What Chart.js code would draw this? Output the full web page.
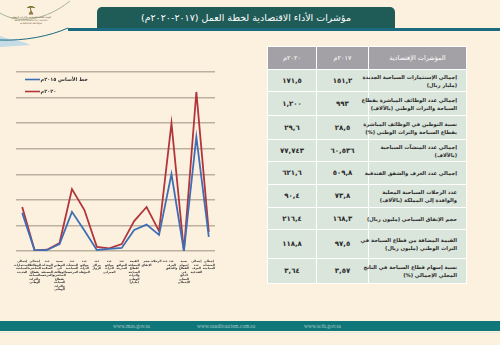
<!DOCTYPE html>
<html lang="ar">
<head>
<meta charset="utf-8">
<script src="https://cdn.jsdelivr.net/npm/chart.js@4.4.1/dist/chart.umd.min.js"></script>
<style>
  html, body { margin: 0; padding: 0; }
  body { width: 500px; height: 345px; background: #fcf1df; position: relative; overflow: hidden; font-family: "DejaVu Sans", sans-serif; }
  #deco { position: absolute; left: 0; top: 0; }
  #title { position: absolute; left: 97px; top: 7px; width: 298px; height: 21px; background: #1f5b57; border-radius: 5px 5px 0 0;
           color: #fff; font-size: 9.5px; text-align: center; line-height: 21px; direction: rtl; }
  #rule { position: absolute; left: 68px; top: 28px; width: 432px; height: 3px; background: #1b6a80; }
  #chartBox { position: absolute; left: 0; top: 0; width: 230px; height: 320px; }
  #tbl { position: absolute; left: 267px; top: 46px; border-collapse: collapse; table-layout: fixed; width: 199px; }
  #tbl td, #tbl th { border: 1.5px solid #fff; padding: 0; text-align: center; vertical-align: middle; }
  #tbl th { background: #a3a1a5; color: #fff; font-weight: normal; font-size: 6.5px; height: 22px; }
  #tbl td { background: #dae5dc; color: #2b2b2b; font-weight: bold; font-size: 7px; }
  #tbl td.ind { text-align: right; direction: rtl; font-size: 5.2px; line-height: 8px; padding-right: 9px; white-space: nowrap; }
  #footer { position: absolute; left: 0; top: 321px; width: 500px; height: 10px; background: #0f7679; }
  #footer span { position: absolute; top: 0; line-height: 10px; font-family: "Liberation Serif", serif; font-size: 5.5px; color: #a8c9c7; }
  #footLine { position: absolute; left: 0; top: 332px; width: 500px; height: 1px; background: #e4e8de; }
</style>
</head>
<body>
<svg id="deco" width="80" height="50">
  <path d="M0,36 C12,41 22,40 30,45 L0,47 Z" fill="#c4dce6"/>
  <path d="M0,13 C18,24 45,21 70,1" fill="none" stroke="#a7b394" stroke-width="1"/>
  <path d="M0,40 C25,41 50,36 68,28" fill="none" stroke="#1b6a80" stroke-width="1"/>
  <path d="M30,6 L31,11 M27,8 C29,6 33,6 35,8 M31,11 L29,14 L33,14 Z" stroke="#8c6a3a" stroke-width="1" fill="#7c9a4a"/>
  <text x="31" y="18" font-size="2.6" text-anchor="middle" fill="#6b5a3a" font-family="DejaVu Sans">الهيئة العامة للسياحة والتراث الوطني</text>
  <text x="31" y="21" font-size="2.2" text-anchor="middle" fill="#6b5a3a" font-family="DejaVu Sans">Saudi Commission for Tourism</text>
  <text x="31" y="24" font-size="2.2" text-anchor="middle" fill="#6b5a3a" font-family="DejaVu Sans">&amp; National Heritage</text>
</svg>
<div id="title">مؤشرات الأداء الاقتصادية لخطة العمل (٢٠١٧-٢٠٢٠م)</div>
<div id="rule"></div>
<div id="chartBox"><canvas id="chart"></canvas></div>
<table id="tbl">
  <colgroup><col style="width:49px"><col style="width:52px"><col style="width:98px"></colgroup>
  <thead><tr><th>٢٠٢٠م</th><th>٢٠١٧م</th><th>المؤشرات الإقتصادية</th></tr></thead>
  <tbody id="tbody"></tbody>
</table>
<div id="footer">
  <span style="left:113px">www.mas.gov.sa</span>
  <span style="left:197px">www.sauditourism.com.sa</span>
  <span style="left:304px">www.scth.gov.sa</span>
</div>
<div id="footLine"></div>
<script>
// indicator categories along the x axis, one short word per line
const categories = [
  ["إجمالي", "الاستثمارات", "السياحية", "الجديدة"],
  ["إجمالي", "الوظائف", "المباشرة", "بقطاع", "السياحة", "والتراث", "الوطني"],
  ["عدد", "الوحدات", "السكنية", "المصنفة", "والمرخصة"],
  ["نسبة", "التوطين", "في", "الوظائف", "المباشرة", "بقطاع", "السياحة", "والتراث", "الوطني"],
  ["عدد", "المنشآت", "السياحية", "المرخصة"],
  ["عدد", "مواقع", "التراث", "المؤهلة"],
  ["عدد", "مراكز", "الزوار"],
  ["عدد", "مواقع", "التراث", "العمراني"],
  ["عدد", "المواقع", "المدرجة"],
  ["القيمة", "المضافة", "لقطاع", "السياحة", "والتراث", "الوطني", "(مليار)"],
  ["حجم", "الإنفاق"],
  ["عدد الرحلات"],
  ["عدد", "الغرف", "والشقق"],
  ["نسبة", "إسهام", "القطاع", "في", "الناتج", "المحلي", "الإجمالي"],
  ["إجمالي", "عدد", "الغرف", "الفندقية"],
  ["إجمالي", "المنشآت", "السياحية"]
];

const baseline2015 = [1.49, 0.02, 0.04, 0.27, 1.53, 0.8, 0.04, 0.08, 0.12, 0.82, 1.03, 0.63, 3.01, 0, 4.46, 0.55];
const target2020   = [1.72, 0.02, 0.05, 0.31, 2.42, 1.6, 0.16, 0.1, 0.27, 1.17, 1.72, 0.78, 5.0, 0, 6.22, 0.74];

const seriesLabels = ["خط الأساس ٢٠١٥م", "٢٠٢٠م"];

// table on the right
const indicators = [
  ["إجمالي الإستثمارات السياحية الجديدة", "(مليار ريال)"],
  ["إجمالي عدد الوظائف المباشرة بقطاع", "السياحة والتراث الوطني (بالآلاف)"],
  ["نسبة التوطين في الوظائف المباشرة", "بقطاع السياحة والتراث الوطني (%)"],
  ["إجمالي عدد المنشآت السياحية", "(بالآلاف)"],
  ["إجمالي عدد الغرف والشقق الفندقية"],
  ["عدد الرحلات السياحية المحلية", "والوافدة إلى المملكة (بالآلاف)"],
  ["حجم الإنفاق السياحي  (مليون ريال)"],
  ["القيمة المضافة من قطاع السياحة في", "التراث الوطني (مليون ريال)"],
  ["نسبة إسهام قطاع السياحة في الناتج", "المحلي الإجمالي  (%)"]
];
const values2017 = ["١٥١,٢", "٩٩٣", "٢٨,٥", "٦٠,٥٣٦", "٥٠٩,٨", "٧٣,٨", "١٦٨,٣", "٩٧,٥", "٣,٥٧"];
const values2020 = ["١٧١,٥", "١,٢٠٠", "٢٩,٦", "٧٧,٧٤٣", "٦٢١,٦", "٩٠,٤", "٢١٦,٤", "١١٨,٨", "٣,٦٤"];
const rowHeights = [22, 24, 24, 22, 23, 23, 22, 29, 25];

const tbody = document.getElementById('tbody');
indicators.forEach((lines, i) => {
  const tr = document.createElement('tr');
  tr.style.height = rowHeights[i] + 'px';
  tr.innerHTML = '<td>' + values2020[i] + '</td><td>' + values2017[i] + '</td><td class="ind">' + lines.join('<br>') + '</td>';
  tbody.appendChild(tr);
});

const colors = ['#3e6fb5', '#b3353c'];

// legend drawn inside the plot, top-left
const innerLegend = {
  id: 'innerLegend',
  afterDraw(chart) {
    const ctx = chart.ctx;
    ctx.save();
    chart.data.datasets.forEach((ds, i) => {
      const y = 79.5 + i * 12;
      ctx.strokeStyle = ds.borderColor;
      ctx.lineWidth = 1.6;
      ctx.beginPath();
      ctx.moveTo(25, y);
      ctx.lineTo(40, y);
      ctx.stroke();
      ctx.fillStyle = '#2b2b2b';
      ctx.font = 'bold 5px "DejaVu Sans"';
      ctx.textBaseline = 'middle';
      ctx.textAlign = 'left';
      ctx.direction = 'rtl';
      ctx.fillText(ds.label, 40.5, y);
    });
    ctx.restore();
  }
};

new Chart(document.getElementById('chart'), {
  type: 'line',
  data: {
    labels: categories,
    datasets: [
      { label: seriesLabels[0], data: baseline2015, borderColor: colors[0], borderWidth: 1.8, pointRadius: 0, tension: 0, fill: false },
      { label: seriesLabels[1], data: target2020, borderColor: colors[1], borderWidth: 1.8, pointRadius: 0, tension: 0, fill: false }
    ]
  },
  options: {
    responsive: true,
    maintainAspectRatio: false,
    animation: false,
    layout: { padding: { left: 16, right: 15, top: 72, bottom: 9 } },
    plugins: { legend: { display: false }, tooltip: { enabled: false } },
    scales: {
      x: {
        offset: true,
        grid: { display: false },
        border: { display: false },
        ticks: { autoSkip: false, maxRotation: 0, minRotation: 0, padding: 1, color: '#2b2b2b',
                 font: { family: 'DejaVu Sans', size: 2.9, weight: 'bold', lineHeight: 1.2 } },
        afterFit(scale) { scale.height = 60; }
      },
      y: {
        min: 0, max: 7,
        grid: { color: '#bcb0a0', lineWidth: 1.4, drawTicks: false },
        border: { display: false },
        ticks: { display: false, stepSize: 1 },
        afterFit(scale) { scale.width = 0; }
      }
    }
  },
  plugins: [innerLegend]
});
</script>
</body>
</html>
